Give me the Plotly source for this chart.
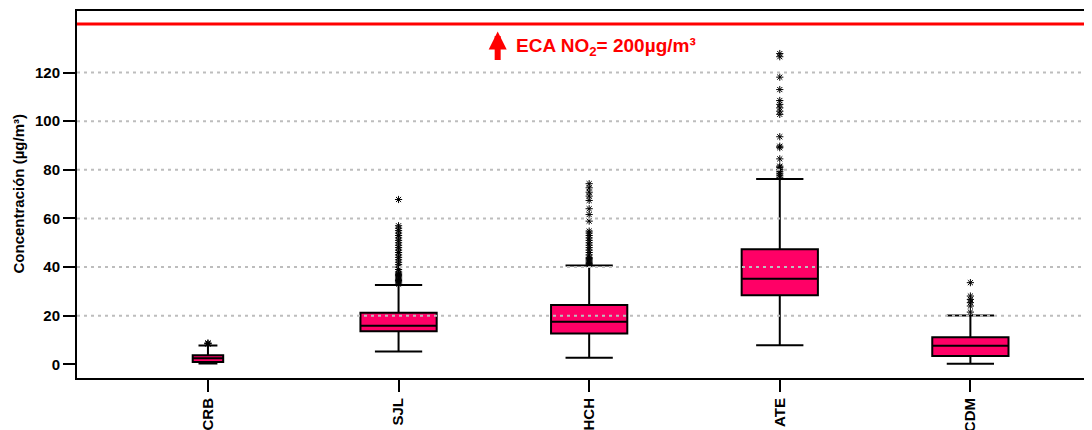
import plotly.graph_objects as go

# ---- data ----
categories = ["CRB", "SJL", "HCH", "ATE", "CDM"]
q1_vals = [1.0, 13.6, 12.7, 28.4, 3.4]
median_vals = [2.5, 15.9, 17.5, 35.2, 7.7]
q3_vals = [3.8, 21.2, 24.4, 47.3, 11.2]
lower_vals = [0.4, 5.3, 2.75, 7.9, 0.3]
upper_vals = [7.8, 32.6, 40.7, 76.2, 20.1]
box_widths = [0.16, 0.40, 0.40, 0.40, 0.40]

outliers_CRB = [8.4, 8.6, 8.8]
outliers_SJL = [33, 33.5, 34, 34.5, 35, 35.5, 36, 36.5, 37, 37.5, 38, 39, 40, 41, 42,
                43, 44, 45, 46, 47, 48, 49, 50, 51, 52, 53, 54, 55, 56, 57, 67.8]
outliers_HCH = [41, 41.5, 42, 42.5, 43, 43.5, 44, 45, 46, 47, 48, 49, 50, 51, 52, 53,
                54, 54.8, 58.9, 61.6, 64, 67.4, 69.2, 70.8, 72.6, 74.3]
outliers_ATE = [77, 77.8, 78.6, 79.4, 80.2, 81, 81.5, 84.5, 89.1, 89.7, 93.6, 102.8,
                104.1, 105.5, 106.9, 108.5, 113, 118.1, 126.5, 127.8]
outliers_CDM = [21.5, 24, 25.4, 26.7, 28.1, 33.6]
outliers = [outliers_CRB, outliers_SJL, outliers_HCH, outliers_ATE, outliers_CDM]

y_ticks = [0, 20, 40, 60, 80, 100, 120]
grid_vals = [20, 40, 60, 80, 100, 120]
eca_line_y = 140
y_title = "Concentración (µg/m³)"
eca_text = "ECA NO<sub>2</sub>= 200µg/m³"

BOX_COLOR = "#FF0066"
FONT = "Arial, Liberation Sans, sans-serif"

fig = go.Figure()

for i, cat in enumerate(categories):
    fig.add_trace(go.Box(
        x=[cat], q1=[q1_vals[i]], median=[median_vals[i]], q3=[q3_vals[i]],
        lowerfence=[lower_vals[i]], upperfence=[upper_vals[i]],
        width=box_widths[i], whiskerwidth=0.62,
        fillcolor=BOX_COLOR, line=dict(color="black", width=2),
        boxpoints=False, showlegend=False, hoverinfo="skip",
    ))

for i, cat in enumerate(categories):
    fig.add_trace(go.Scatter(
        x=[cat] * len(outliers[i]), y=outliers[i], mode="markers",
        marker=dict(symbol="asterisk-open", size=6, color="black",
                    line=dict(color="black", width=1)),
        showlegend=False, hoverinfo="skip",
    ))

shapes = []
for g in grid_vals:
    shapes.append(dict(type="line", xref="paper", x0=0, x1=1, yref="y", y0=g, y1=g,
                       line=dict(color="#BDBDBD", width=2, dash="3px,4px"), layer="above"))
shapes.append(dict(type="line", xref="paper", x0=0, x1=1, yref="y", y0=eca_line_y, y1=eca_line_y,
                   line=dict(color="#FF0000", width=3), layer="above"))

annotations = [
    dict(x=1.52, y=136.9, xref="x", yref="y", text="", showarrow=True,
         ax=0, ay=30, axref="pixel", ayref="pixel",
         arrowhead=2, arrowsize=0.6, arrowwidth=6, arrowcolor="#FF0000"),
    dict(x=1.605, y=130.3, xref="x", yref="y", text=eca_text, showarrow=False,
         xanchor="left", yanchor="middle",
         font=dict(family=FONT, size=19, color="#FF0000", weight="bold")),
    dict(x=0, y=0.5, xref="paper", yref="paper", text=y_title, showarrow=False,
         textangle=-90, xanchor="center", yanchor="middle", xshift=-59,
         font=dict(family=FONT, size=15, color="black", weight="bold")),
]

fig.update_layout(
    width=1092, height=430,
    margin=dict(l=69, r=0, t=3, b=60),
    paper_bgcolor="white", plot_bgcolor="white",
    boxmode="overlay",
    shapes=shapes, annotations=annotations,
    font=dict(family=FONT, color="black"),
)
fig.update_xaxes(
    type="category", categoryorder="array", categoryarray=categories,
    range=[-0.687, 4.680],
    showline=True, linecolor="black", linewidth=2, mirror=True,
    ticks="outside", ticklen=12, tickwidth=2, tickcolor="black",
    tickangle=-90, tickfont=dict(family=FONT, size=15, color="black", weight="bold"),
    showgrid=False, zeroline=False,
)
fig.update_yaxes(
    range=[-5.6, 145.3], tickvals=y_ticks,
    showline=True, linecolor="black", linewidth=2,
    ticks="outside", ticklen=12, tickwidth=2, tickcolor="black",
    tickfont=dict(family=FONT, size=15, color="black", weight="bold"),
    showgrid=False, zeroline=False,
)

fig.write_html("out.html")
